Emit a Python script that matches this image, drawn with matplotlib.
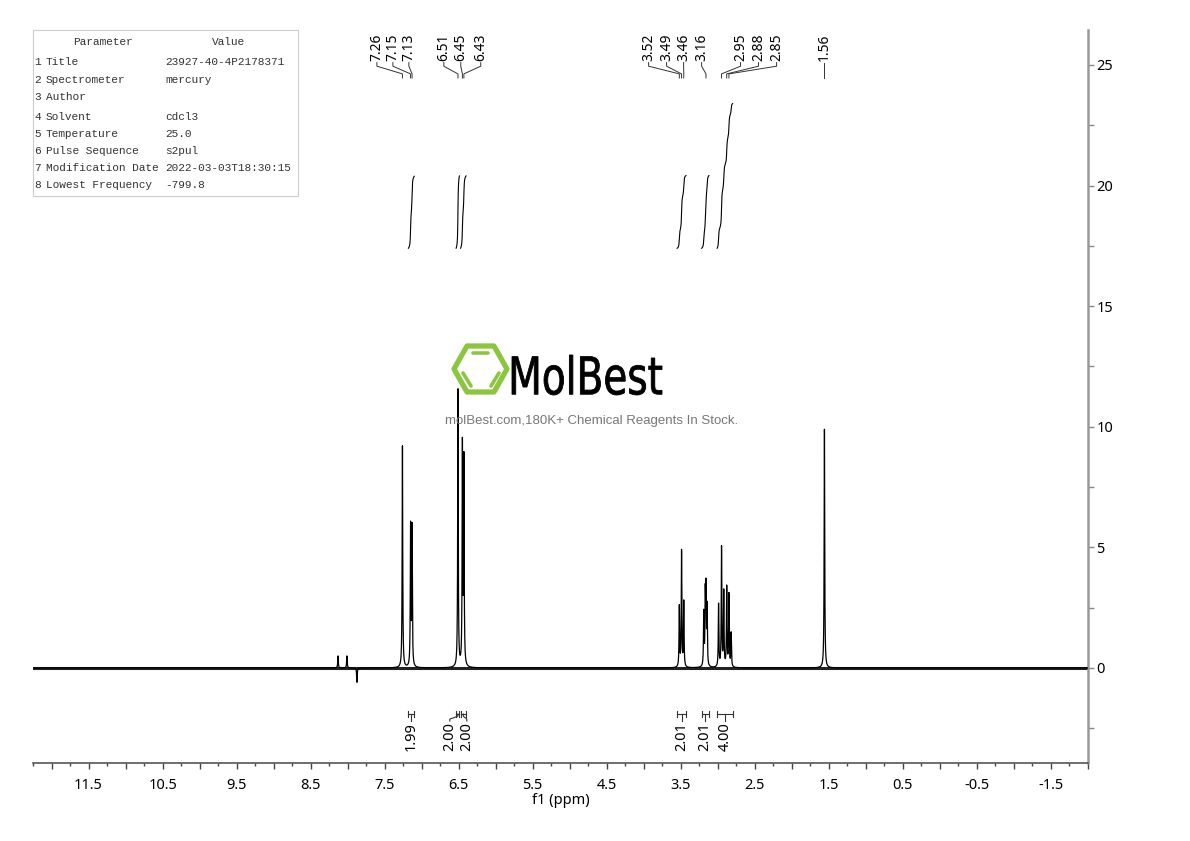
import numpy as np
import matplotlib
matplotlib.use("Agg")
import matplotlib.pyplot as plt
from matplotlib.patches import Polygon, PathPatch, Rectangle
from matplotlib.textpath import TextPath
from matplotlib.font_manager import FontProperties
from matplotlib.ticker import MultipleLocator, FuncFormatter
import matplotlib.transforms as mtransforms

plt.rcParams['font.family'] = ['Noto Sans', 'DejaVu Sans']

# ピーク (ppm, 強度) -- 画像から読み取り
peak_ppm = [7.26, 7.15, 7.13, 6.51, 6.45, 6.43,
            3.52, 3.49, 3.46, 3.19, 3.17, 3.16, 3.145,
            2.99, 2.95, 2.92, 2.88, 2.85, 2.82, 1.56,
            8.13, 8.01, 7.875]
peak_height = [9.2, 5.8, 5.75, 11.5, 9.1, 8.5,
               2.5, 4.8, 2.7, 2.2, 2.8, 3.0, 2.4,
               2.6, 4.95, 3.1, 3.3, 3.0, 1.4, 9.9,
               0.5, 0.5, -0.6]

# ピークラベル
label_ppm = [7.26, 7.15, 7.13, 6.51, 6.45, 6.43, 3.52, 3.49, 3.46, 3.16, 2.95, 2.88, 2.85, 1.56]
label_x = [7.605, 7.389, 7.173, 6.701, 6.472, 6.202, 3.935, 3.692, 3.462, 3.219, 2.693, 2.45, 2.206, 1.56]

# 積分
int_from = [7.18, 6.535, 6.475, 3.55, 3.22, 3.01]
int_to = [7.10, 6.49, 6.40, 3.43, 3.12, 2.80]
int_value = [1.99, 2.00, 2.00, 2.01, 2.01, 4.00]
int_label_x = [7.14, 6.62, 6.39, 3.49, 3.17, 2.905]

# パラメータ表
param_names = ["Title", "Spectrometer", "Author", "Solvent", "Temperature",
               "Pulse Sequence", "Modification Date", "Lowest Frequency"]
param_values = ["23927-40-4P2178371", "mercury", "", "cdcl3", "25.0",
                "s2pul", "2022-03-03T18:30:15", "-799.8"]
param_rows_py = [62, 80, 97, 117, 134, 151, 168, 185]

W, H = 1190, 841
fig = plt.figure(figsize=(W / 100, H / 100), dpi=100)
ax = fig.add_axes([33 / W, 1 - 763 / H, (1088 - 33) / W, (763 - 30) / H])

# スペクトル
x = np.linspace(12.25, -2.0, 40000)
hw = 0.0045
y = np.zeros_like(x)
for p, h in zip(peak_ppm, peak_height):
    y += h / (1 + ((x - p) / hw) ** 2)

ax.axhline(0, color='#222222', lw=2.2, zorder=1)
ax.plot(x, y, color='black', lw=0.9, zorder=3)

ax.set_xlim(12.25, -2.0)
ax.set_ylim(-3.94, 26.45)

# ピークラベル
for p, lx in zip(label_ppm, label_x):
    ax.text(lx, 25.15, f"{p:.2f}", rotation=90, ha='center', va='bottom', fontsize=10)
    ax.plot([lx, lx, p, p], [25.1, 24.95, 24.63, 24.46], color='#333333', lw=0.7)

# 積分曲線とラベル
for a, b, v, tx in zip(int_from, int_to, int_value, int_label_x):
    m = (x <= a) & (x >= b)
    xs, ys = x[m], y[m]
    cum = np.cumsum(ys)
    cum = cum / cum[-1]
    ax.plot(xs, 17.4 + 1.5 * v * cum, color='black', lw=0.8)
    c = (a + b) / 2
    ax.plot([a, b], [-1.91, -1.91], color='#333333', lw=0.8)
    ax.plot([a, a], [-1.78, -2.04], color='#333333', lw=0.8)
    ax.plot([b, b], [-1.78, -2.04], color='#333333', lw=0.8)
    ax.plot([c, c, tx, tx], [-1.91, -2.0, -2.12, -2.2], color='#333333', lw=0.8)
    ax.text(tx, -2.25, f"{v:.2f}", rotation=90, ha='center', va='top', fontsize=10.5)

# 軸
for s in ['left', 'top']:
    ax.spines[s].set_visible(False)
ax.spines['bottom'].set_color('#555555')
ax.spines['bottom'].set_linewidth(1.2)
ax.spines['right'].set_color('#999999')
ax.spines['right'].set_linewidth(1.8)

ax.xaxis.set_major_locator(MultipleLocator(0.5))
ax.xaxis.set_minor_locator(MultipleLocator(0.25))
ax.xaxis.set_major_formatter(FuncFormatter(
    lambda v, pos: f"{v:.1f}" if abs(abs(v) % 1 - 0.5) < 1e-6 else ""))
ax.tick_params(axis='x', which='major', direction='out', length=4.5, width=1,
               color='#444444', labelsize=10.5, pad=6)
ax.tick_params(axis='x', which='minor', direction='out', length=2.5, width=1, color='#444444')

ax.yaxis.tick_right()
ax.yaxis.set_major_locator(MultipleLocator(5))
ax.yaxis.set_minor_locator(MultipleLocator(2.5))
ax.yaxis.set_major_formatter(FuncFormatter(lambda v, pos: f"{v:.0f}"))
ax.tick_params(axis='y', which='major', direction='out', length=4, width=1,
               color='#888888', labelsize=10.5, pad=2)
ax.tick_params(axis='y', which='minor', direction='out', length=4, width=1, color='#888888')
ax.set_xlabel("f1 (ppm)", fontsize=10.5, labelpad=0)


def fx(px):
    return px / W


def fy(py):
    return 1 - py / H


# パラメータ表
fig.add_artist(Rectangle((fx(33), fy(196)), fx(298) - fx(33), fy(30) - fy(196),
                         transform=fig.transFigure, facecolor='white',
                         edgecolor='#cccccc', lw=0.8))
mono = dict(family='Liberation Mono', fontsize=8, color='#333333', va='center')
fig.text(fx(103), fy(42), "Parameter", ha='center', **mono)
fig.text(fx(229), fy(42), "Value", ha='center', **mono)
for i, (n, v, py) in enumerate(zip(param_names, param_values, param_rows_py)):
    fig.text(fx(34), fy(py), str(i + 1), ha='left', **mono)
    fig.text(fx(46), fy(py), n, ha='left', **mono)
    fig.text(fx(165), fy(py), v, ha='left', **mono)

# ロゴ (透かし)
green = '#8cc63f'
hexpts = [(454, 369), (467, 346), (494, 346), (507, 369), (494, 392), (467, 392)]
fig.add_artist(Polygon([(fx(a), fy(b)) for a, b in hexpts], closed=True, fill=False,
                       edgecolor=green, lw=3.8, joinstyle='round',
                       transform=fig.transFigure))
for (x1, y1), (x2, y2) in [((473, 353), (488, 353)), ((463, 373), (471, 386)),
                           ((499, 373), (491, 386))]:
    fig.add_artist(plt.Line2D([fx(x1), fx(x2)], [fy(y1), fy(y2)], color=green,
                              lw=2.6, solid_capstyle='round', transform=fig.transFigure))

tp = TextPath((0, 0), "MolBest", size=100, prop=FontProperties(family='DejaVu Sans'))
ext = tp.get_extents()
tr = (mtransforms.Affine2D().translate(-ext.x0, -ext.y0)
      .scale(150 / ext.width / W, 40 / ext.height / H)
      .translate(fx(512), fy(395)) + fig.transFigure)
fig.add_artist(PathPatch(tp, facecolor='black', edgecolor='black', lw=0.6, transform=tr))
fig.text(fx(592), fy(421), "molBest.com,180K+ Chemical Reagents In Stock.",
         family='Liberation Sans', fontsize=9.5, color='#777777', ha='center', va='center')

fig.savefig("out.png", dpi=100)
